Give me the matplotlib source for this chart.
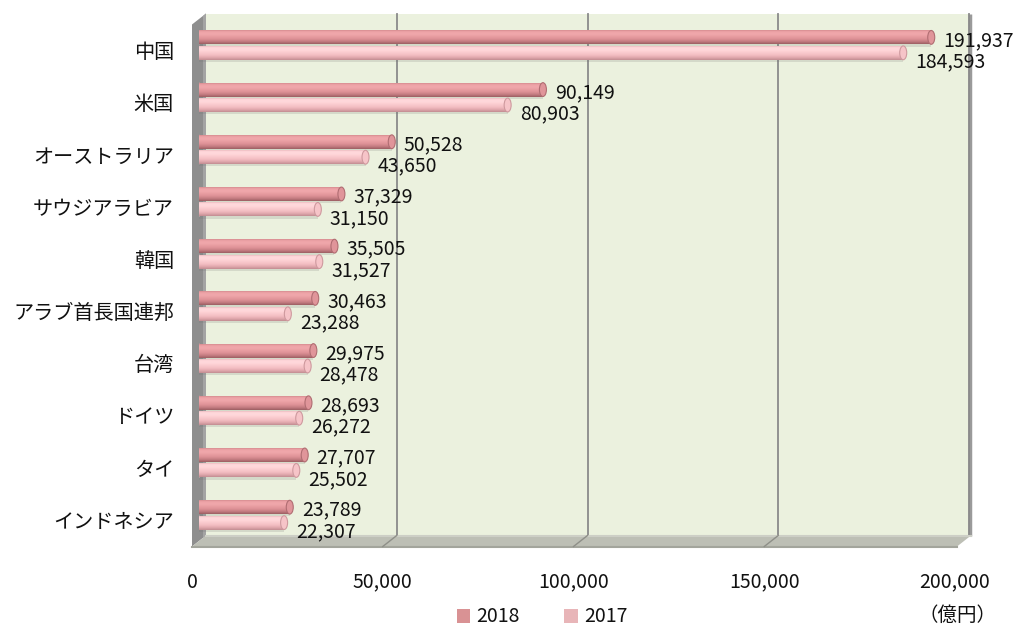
import numpy as np
import matplotlib
matplotlib.use("Agg")
import matplotlib.pyplot as plt
from matplotlib.patches import Polygon, Ellipse, Patch
from matplotlib.colors import LinearSegmentedColormap
from matplotlib.transforms import ScaledTranslation

plt.rcParams['font.family'] = ['Noto Sans CJK JP', 'DejaVu Sans']

countries = ['中国', '米国', 'オーストラリア', 'サウジアラビア', '韓国',
             'アラブ首長国連邦', '台湾', 'ドイツ', 'タイ', 'インドネシア']
v2018 = [191937, 90149, 50528, 37329, 35505, 30463, 29975, 28693, 27707, 23789]
v2017 = [184593, 80903, 43650, 31150, 31527, 23288, 28478, 26272, 25502, 22307]
xticks = [0, 50000, 100000, 150000, 200000]
xticklabels = ['0', '50,000', '100,000', '150,000', '200,000']
series_names = ['2018', '2017']
unit_label = '（億円）'

W, H = 1016, 626
DX, DY = 7, 5.5          # half depth of the 3D box, in pixels
X0, X1 = 199, 962        # bar plane, left/right
Y0, Y1 = 19, 541         # bar plane, top/bottom
TXT = '#111111'
FS = 14

fig = plt.figure(figsize=(W / 100, H / 100), dpi=100)

# background layer in pixel coordinates (y downwards)
bg = fig.add_axes([0, 0, 1, 1], zorder=0)
bg.set_xlim(0, W)
bg.set_ylim(H, 0)
bg.axis('off')

ax = fig.add_axes([X0 / W, 1 - Y1 / H, (X1 - X0) / W, (Y1 - Y0) / H], zorder=1)
ax.patch.set_alpha(0)
ax.set_xlim(0, 200000)
ax.set_ylim(len(countries) - 0.5, -0.5)
for s in ax.spines.values():
    s.set_visible(False)

def px(v):
    return ax.transData.transform((v, 0))[0]

# back wall
bx0, bx1 = px(0) + DX, px(200000) + DX
by0, by1 = Y0 - DY, Y1 - DY
bg.add_patch(Polygon([(bx0, by0), (bx1, by0), (bx1, by1), (bx0, by1)],
                     closed=True, facecolor='#EBF1DE', edgecolor='none'))
# right edge of the back wall
bg.plot([bx1 + 1, bx1 + 1], [by0, by1], color='#9A9A9A', lw=2.5, solid_capstyle='butt')
# gridlines on the back wall
for t in xticks[1:]:
    gx = px(t) + DX
    bg.plot([gx, gx], [by0, by1], color='#8A8A8A', lw=1.3)

# side wall
fx0 = px(0) - DX
bg.add_patch(Polygon([(fx0, Y0 + DY), (bx0, by0), (bx0, by1), (fx0, Y1 + DY)],
                     closed=True, facecolor='#8E8E8E', edgecolor='none'))
bg.add_patch(Polygon([(bx0 - 3, by0 + 2.5), (bx0, by0), (bx0, by1), (bx0 - 3, by1 + 2.5)],
                     closed=True, facecolor='#A4A4A4', edgecolor='none'))

# floor
fx1 = px(200000) - DX
bg.add_patch(Polygon([(fx0, Y1 + DY), (bx0, by1), (bx1 + 2, by1), (fx1 + 2, Y1 + DY)],
                     closed=True, facecolor='#BDBFB5', edgecolor='none'))
bg.plot([fx0, fx1 + 2], [Y1 + DY, Y1 + DY], color='#A3A59C', lw=1.5)
bg.plot([bx0, bx1 + 2], [by1 + 0.5, by1 + 0.5], color='#CDCFC6', lw=1.5)
for t in xticks[1:-1]:
    gx = px(t)
    bg.plot([gx + DX, gx - DX], [by1, Y1 + DY], color='#8E8F88', lw=1.0)

# bars (cylinder shading)
cmap18 = LinearSegmentedColormap.from_list(
    'c18', ['#C77D82', '#EDA3A7', '#F0A8AC', '#E89DA1', '#DC9095', '#C47C81', '#9C5E62'])
cmap17 = LinearSegmentedColormap.from_list(
    'c17', ['#E2ADB1', '#FFD8DB', '#FFD7DA', '#FACACE', '#F3BEC3', '#E2A9AE', '#C28D92'])
BH = 0.27
OFF = 0.148
ypos = np.arange(len(countries))
grad = np.linspace(0, 1, 64).reshape(-1, 1)
cap_w = 7 / (X1 - X0) * 200000

def draw_series(vals, offset, cmap, cap_color, edge_color):
    ys = ypos + offset
    # soft shadow below the bars
    ax.barh(ys + 0.04, vals, height=BH, color='#6E6E6E', alpha=0.18, zorder=2)
    bars = ax.barh(ys, vals, height=BH, color=cmap(0.5), zorder=3)
    for b, v, y in zip(bars, vals, ys):
        im = ax.imshow(grad, cmap=cmap, aspect='auto', interpolation='bilinear',
                       extent=(0, v, y + BH / 2, y - BH / 2), zorder=3)
        im.set_clip_path(b)
        ax.add_patch(Ellipse((0, y), cap_w * 0.8, BH, facecolor=cmap(0.45),
                             edgecolor='none', zorder=2.9))
        ax.add_patch(Ellipse((v, y), cap_w, BH * 0.98, facecolor=cap_color,
                             edgecolor=edge_color, lw=0.8, zorder=4))
    return bars

draw_series(v2018, -OFF, cmap18, '#E0959A', '#B06D72')
draw_series(v2017, OFF, cmap17, '#F6C4C8', '#CE999E')
ax.set_xlim(0, 200000)
ax.set_ylim(len(countries) - 0.5, -0.5)

# value labels
for y, v in zip(ypos, v2018):
    ax.annotate(f'{v:,}', (v, y - OFF), xytext=(12, -3), textcoords='offset pixels',
                ha='left', va='center', fontsize=FS, color=TXT, zorder=5)
for y, v in zip(ypos, v2017):
    ax.annotate(f'{v:,}', (v, y + OFF), xytext=(12, -9), textcoords='offset pixels',
                ha='left', va='center', fontsize=FS, color=TXT, zorder=5)

# axis labels
ax.set_yticks(ypos)
ax.set_yticklabels(countries, fontsize=14.5, color=TXT)
ax.tick_params(axis='y', length=0, pad=18)
ax.set_xticks(xticks)
ax.set_xticklabels(xticklabels, fontsize=FS, color=TXT)
ax.tick_params(axis='x', length=0, pad=22)
for lab in ax.get_yticklabels():
    lab.set_transform(lab.get_transform() + ScaledTranslation(0, -5 / 100, fig.dpi_scale_trans))
for lab in ax.get_xticklabels():
    lab.set_transform(lab.get_transform() + ScaledTranslation(-DX / 100, 0, fig.dpi_scale_trans))

fig.text(997 / W, 1 - 615 / H, unit_label, ha='right', va='center', fontsize=FS, color=TXT)

handles = [Patch(facecolor='#D99294', edgecolor='none'),
           Patch(facecolor='#E8B5B8', edgecolor='none')]
fig.legend(handles, series_names, loc='center', bbox_to_anchor=(542 / W, 1 - 617 / H),
           ncol=2, frameon=False, fontsize=FS, handlelength=0.7, handleheight=0.7,
           handletextpad=0.3, columnspacing=2.3, borderpad=0, labelcolor=TXT)

fig.savefig('out.png', dpi=100)
